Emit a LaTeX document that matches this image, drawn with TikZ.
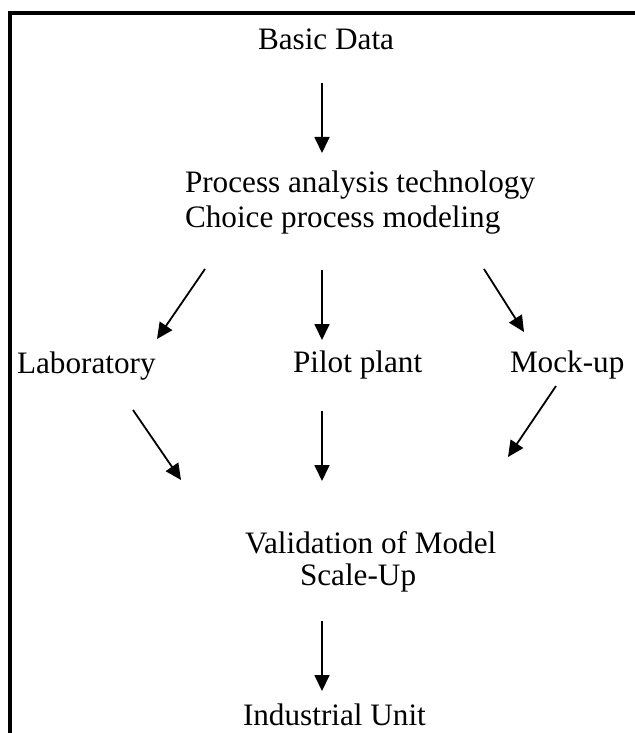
\documentclass[tikz,border=0pt]{standalone}
\usepackage{fontspec}
\setmainfont{Liberation Serif}
\usetikzlibrary{arrows.meta}
\tikzset{
  lbl/.style={anchor=base west, inner sep=0pt, outer sep=0pt, font=\fontsize{31.2bp}{36bp}\selectfont},
  arr/.style={line width=1.8bp, -{Triangle[length=16bp,width=15bp]}},
  frame/.style={line width=4.2bp, line join=miter}
}
\begin{document}
\begin{tikzpicture}[x=1bp,y=-1bp]
\useasboundingbox (0,0) rectangle (635,733);
\draw[frame] (636,13) -- (10,13) -- (10,735);

\node[lbl] (basic) at (258,50) {Basic Data};
\node[lbl] (proc1) at (185,192) {Process analysis technology};
\node[lbl] (proc2) at (185,227) {Choice process modeling};
\node[lbl] (lab) at (17,373) {Laboratory};
\node[lbl] (pilot) at (293,372) {Pilot plant};
\node[lbl] (mock) at (510,372) {Mock-up};
\node[lbl] (valid) at (245,553) {Validation of Model};
\node[lbl] (scale) at (300,585) {Scale-Up};
\node[lbl] (indus) at (243,725) {Industrial Unit};

\coordinate (a0s) at (322,83);  \coordinate (a0e) at (322,153);
\coordinate (a1s) at (205,269); \coordinate (a1e) at (157,339);
\coordinate (a2s) at (322,270); \coordinate (a2e) at (322,340);
\coordinate (a3s) at (484,269); \coordinate (a3e) at (524,332);
\coordinate (b1s) at (133,410); \coordinate (b1e) at (181,480);
\coordinate (b2s) at (322,411); \coordinate (b2e) at (322,481);
\coordinate (b3s) at (556,386); \coordinate (b3e) at (508,457);
\coordinate (c0s) at (322,621); \coordinate (c0e) at (322,691);

\draw[arr] (a0s) -- (a0e);
\draw[arr] (a1s) -- (a1e);
\draw[arr] (a2s) -- (a2e);
\draw[arr] (a3s) -- (a3e);
\draw[arr] (b1s) -- (b1e);
\draw[arr] (b2s) -- (b2e);
\draw[arr] (b3s) -- (b3e);
\draw[arr] (c0s) -- (c0e);
\end{tikzpicture}
\end{document}
